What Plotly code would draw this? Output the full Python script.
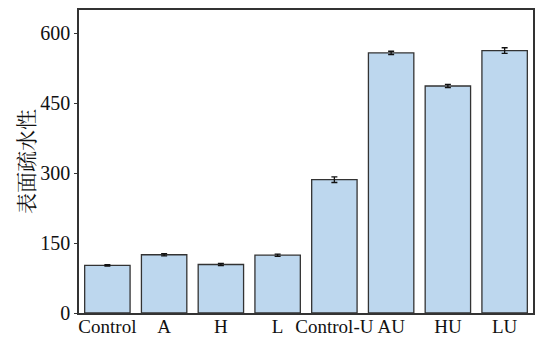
import plotly.graph_objects as go

categories = ["Control", "A", "H", "L", "Control-U", "AU", "HU", "LU"]
values = [102, 125, 104, 124, 286, 558, 487, 563]
errors = [1.5, 2.5, 2.5, 2.5, 6, 3.5, 3.5, 6]
y_ticks = [0, 150, 300, 450, 600]

fig = go.Figure(go.Bar(
    x=categories, y=values,
    marker=dict(color="#BDD7EE", line=dict(color="#333333", width=1.3)),
    error_y=dict(type="data", array=errors, color="#111111", thickness=1.3, width=3),
))

fig.update_layout(
    width=535, height=338,
    margin=dict(l=79, r=2, t=10, b=25),
    plot_bgcolor="white", paper_bgcolor="white",
    bargap=0.2,
    font=dict(family="Liberation Serif, Times New Roman, serif", size=19, color="#111111"),
    showlegend=False,
)
fig.update_xaxes(
    showline=True, linecolor="#333333", linewidth=1.5, mirror=True, automargin=False,
    ticks="", tickfont=dict(size=19), showgrid=False, tickangle=0, ticklabelstandoff=-5,
)
fig.update_yaxes(
    range=[0, 650], tickvals=y_ticks, showline=True, linecolor="#333333", linewidth=1.5,
    mirror=True, ticks="outside", ticklen=3, tickcolor="#333333", showgrid=False, zeroline=False,
    tickfont=dict(size=20), automargin=False,
    title=dict(text="表面疏水性", font=dict(family="Noto Serif CJK SC, Noto Sans CJK SC", size=21), standoff=0),
)

fig.write_html("out.html")
